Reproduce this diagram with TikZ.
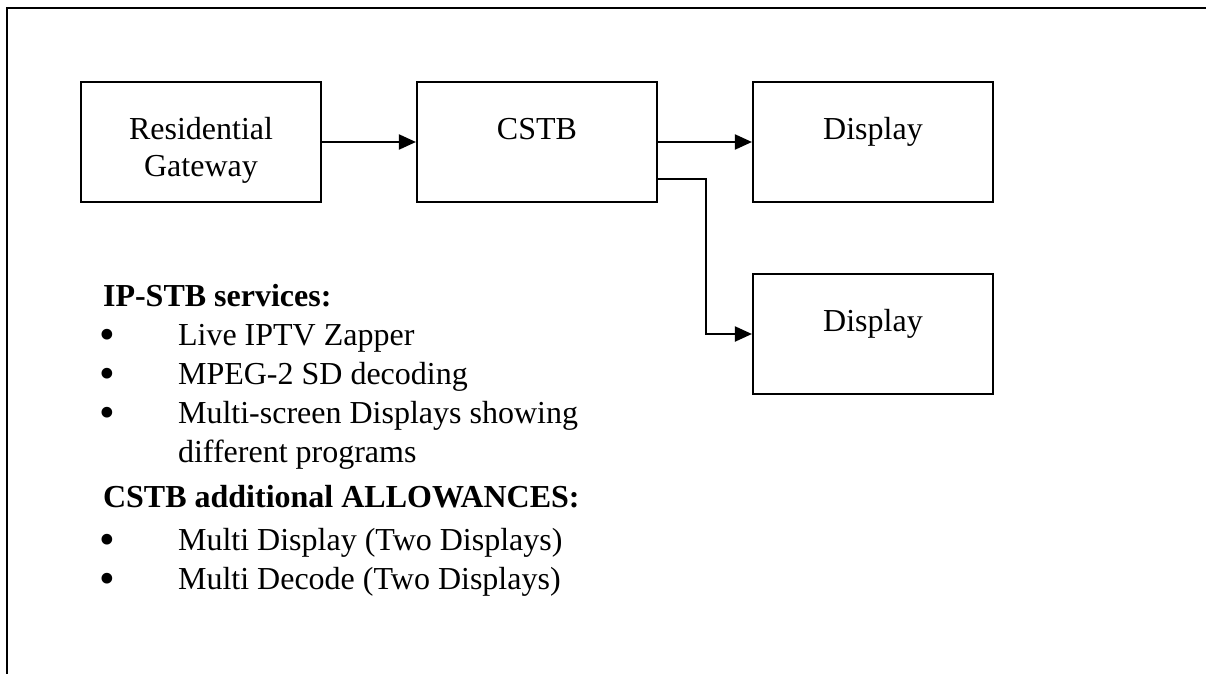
\documentclass[tikz,border=0pt]{standalone}
\usepackage{fontspec}
\setmainfont{Liberation Serif}
\usetikzlibrary{arrows.meta}
\begin{document}
\begin{tikzpicture}[x=0.75pt,y=-0.75pt,
  font=\fontsize{24}{29.25}\selectfont,
  line width=1.6pt,
  boxnode/.style={draw, rectangle, minimum width=180pt, minimum height=90pt, inner sep=0pt},
  boxtext/.style={anchor=base, align=center, inner sep=0pt},
  conn/.style={-{Triangle[length=12.75pt,width=11.25pt]}, line width=1.5pt},
  txt/.style={anchor=base west, inner sep=0pt},
  bul/.style={anchor=base, inner sep=0pt, yshift=-3pt}]
\useasboundingbox (0,0) rectangle (1206,674);
% frame
\draw (7,674) -- (7,8) -- (1206,8);
% boxes
\node[boxnode] (rg) at (201,142) {};
\node[boxnode] (cstb) at (537,142) {};
\node[boxnode] (d1) at (873,142) {};
\node[boxnode] (d2) at (873,334) {};
\node[boxtext] (rgt) at (201,176) {Residential\\[-1.5pt]Gateway};
\node[boxtext] (cstbt) at (537,139) {CSTB};
\node[boxtext] (d1t) at (873,139) {Display};
\node[boxtext] (d2t) at (873,331) {Display};
% connectors
\draw[conn] (rg) -- (cstb);
\draw[conn] (cstb) -- (d1);
\coordinate (split) at ([yshift=-27.75pt]cstb.east);
\draw[conn] (split) -- ++(48,0) |- (d2.west);
% text
\node[txt] (h1) at (102,306) {\textbf{IP-STB services:}};
\node[bul] (b1) at (107,345) {\scalebox{1.4}{•}};
\node[txt] (i1) at (177,345) {Live IPTV Zapper};
\node[bul] (b2) at (107,384) {\scalebox{1.4}{•}};
\node[txt] (i2) at (177,384) {MPEG-2 SD decoding};
\node[bul] (b3) at (107,423) {\scalebox{1.4}{•}};
\node[txt] (i3) at (177,423) {Multi-screen Displays showing};
\node[txt] (i3b) at (177,462) {different programs};
\node[txt] (h2) at (102,507) {\textbf{CSTB additional ALLOWANCES:}};
\node[bul] (b4) at (107,550) {\scalebox{1.4}{•}};
\node[txt] (i4) at (177,550) {Multi Display (Two Displays)};
\node[bul] (b5) at (107,589) {\scalebox{1.4}{•}};
\node[txt] (i5) at (177,589) {Multi Decode (Two Displays)};
\end{tikzpicture}
\end{document}
